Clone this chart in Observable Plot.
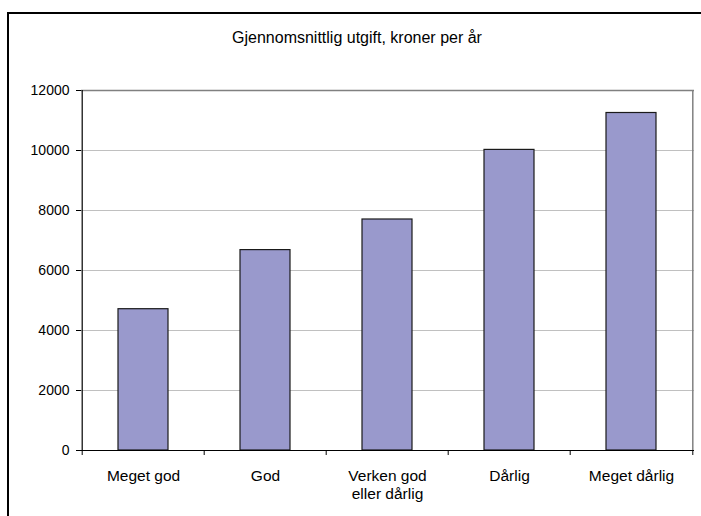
<!DOCTYPE html>
<html>
<head>
<meta charset="utf-8">
<script src="https://cdn.jsdelivr.net/npm/d3@7"></script>
<script src="https://cdn.jsdelivr.net/npm/@observablehq/plot@0.6"></script>
<style>
  html, body { margin: 0; padding: 0; background: #fff; overflow: hidden; }
  #wrap { position: relative; width: 701px; height: 516px; overflow: hidden; font-family: "Liberation Sans", Arial, sans-serif; }
  #frame { position: absolute; left: 7px; top: 12px; width: 800px; height: 600px; border: 2px solid #000; box-sizing: border-box; }
  #title { position: absolute; left: 0; width: 714px; top: 29px; text-align: center; font-size: 16px; color: #000; }
  #chart { position: absolute; left: 0; top: 0; }
</style>
</head>
<body>
<div id="wrap">
  <div id="frame"></div>
  <div id="title">Gjennomsnittlig utgift, kroner per år</div>
  <div id="chart"></div>
</div>
<script>
const categories = ["Meget god", "God", "Verken god\neller dårlig", "Dårlig", "Meget dårlig"];
const values = [4710, 6680, 7700, 10020, 11250];
const yTicks = [0, 2000, 4000, 6000, 8000, 10000, 12000];
const gridTicks = [2000, 4000, 6000, 8000, 10000];

const data = categories.map((c, i) => ({category: c, value: values[i]}));
const firstCat = [categories[0]];
const lastCat = [categories[categories.length - 1]];

const plot = Plot.plot({
  width: 701,
  height: 516,
  marginLeft: 81,
  marginRight: 7,
  marginTop: 90,
  marginBottom: 66,
  style: {background: "transparent", fontFamily: "'Liberation Sans', Arial, sans-serif", color: "#000"},
  x: {domain: categories, paddingInner: 0.59, paddingOuter: 0.295, label: null},
  y: {domain: [0, 12000], label: null},
  marks: [
    Plot.ruleY(gridTicks, {stroke: "#c0c0c0", strokeWidth: 1}),
    Plot.ruleY([12000], {stroke: "#808080", strokeWidth: 1.5}),
    Plot.ruleX(lastCat, {x: d => d, dx: 61.3, stroke: "#808080", strokeWidth: 1.5}),
    Plot.barY(data, {x: "category", y: "value", fill: "#9999cc", stroke: "#1a1a1a", strokeWidth: 1.2}),
    Plot.ruleY([0], {stroke: "#000", strokeWidth: 1.2}),
    Plot.axisY({ticks: yTicks, tickSize: 5, tickPadding: 7, fontSize: 14, tickFormat: d => String(d), stroke: "#000"}),
    Plot.ruleX(firstCat, {x: d => d, dx: -61.3, stroke: "#000", strokeWidth: 1.2}),
    Plot.axisX({tickSize: 0, tickPadding: 18, fontSize: 15.5, lineHeight: 1.15}),
    Plot.ruleX(categories, {x: d => d, dx: -61.3, y1: 0, y2: 0, insetBottom: -5, stroke: "#000"}),
    Plot.ruleX(lastCat, {x: d => d, dx: 61.3, y1: 0, y2: 0, insetBottom: -5, stroke: "#000"})
  ]
});
document.getElementById("chart").appendChild(plot);
</script>
</body>
</html>
